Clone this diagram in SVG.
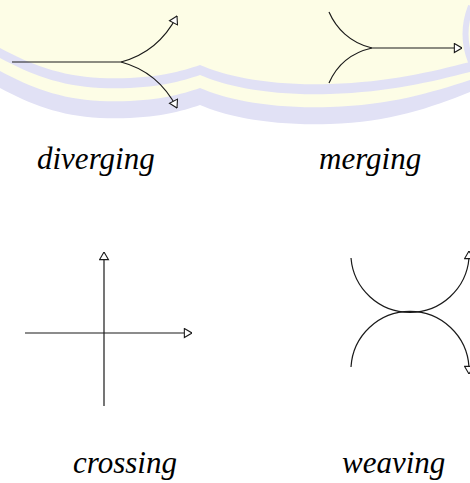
<svg xmlns="http://www.w3.org/2000/svg" width="470" height="483" viewBox="0 0 470 483">
<style>
.ln{fill:none;stroke:#1a1a1a;stroke-width:1.2}
.lbl{font-family:"Liberation Serif","Times New Roman",serif;font-style:italic;font-size:31px;fill:#000}
.lav{fill:#e1e1f5}
.yel{fill:#fdfde6}
</style>
<defs>
<marker id="ah" viewBox="0 0 10 12" refX="9.5" refY="6" markerWidth="9" markerHeight="11" markerUnits="userSpaceOnUse" orient="auto">
<path d="M1,1 L9.5,6 L1,11 Z" fill="#fff" stroke="#1a1a1a" stroke-width="1.2"/>
</marker>
</defs>
<rect width="470" height="483" fill="#fff"/>
<g id="watermark">
<path class="lav" d="M0,88 C30,104 60,116 100,118 C150,120 180,112 200,105 C225,116 270,126 330,124 C390,122 430,108 470,92 L470,0 L0,0 Z"/>
<path class="yel" d="M0,71 C30,87 60,99 100,101 C150,103 180,95 200,88 C225,99 270,109 330,107 C390,105 430,93 470,80 L470,0 L0,0 Z"/>
<path class="lav" d="M0,58 C30,74 60,86 100,88 C150,90 180,82 200,75 C225,86 270,96 330,94 C390,92 430,82 470,72 L470,0 L0,0 Z"/>
<path class="yel" d="M0,48 C30,64 60,76 100,78 C150,80 180,72 200,65 C225,76 270,86 330,84 C390,82 430,72 470,62 L470,0 L0,0 Z"/>
<path d="M471,6 Q460,34 471,62" fill="none" stroke="#e1e1f5" stroke-width="6"/>
</g>
<g id="connectors">
<path class="ln" d="M12,62 H121"/>
<path class="ln" d="M121,62 C140,57 162,45 177,16" marker-end="url(#ah)"/>
<path class="ln" d="M121,62 C140,67 162,79 177,108" marker-end="url(#ah)"/>
<path class="ln" d="M329,12 C336,28 350,43 372,48"/>
<path class="ln" d="M329,83 C336,67 350,53 372,48"/>
<path class="ln" d="M372,48 H462" marker-end="url(#ah)"/>
<path class="ln" d="M104,406 V252" marker-end="url(#ah)"/>
<path class="ln" d="M25,333 H192" marker-end="url(#ah)"/>
<path class="ln" d="M351,258 A59.2,59.2 0 0 0 469,258 L469,251" marker-end="url(#ah)"/>
<path class="ln" d="M351,367 A59.1,59.1 0 0 1 469,367 L469,374" marker-end="url(#ah)"/>
</g>
<g id="diverging"><text class="lbl" x="37" y="169">diverging</text></g>
<g id="merging"><text class="lbl" x="319" y="169">merging</text></g>
<g id="crossing"><text class="lbl" x="73" y="473">crossing</text></g>
<g id="weaving"><text class="lbl" x="342" y="473">weaving</text></g>
</svg>
